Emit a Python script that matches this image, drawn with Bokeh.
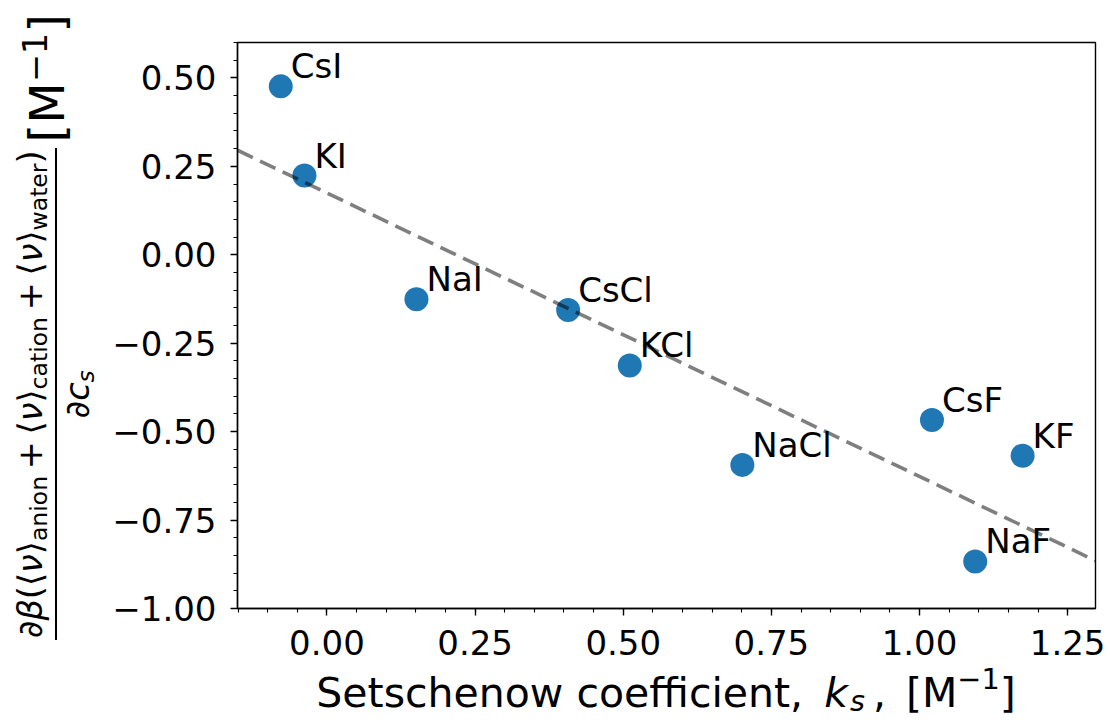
import numpy as np
from bokeh.plotting import figure
from bokeh.layouts import row, column
from bokeh.models import Range1d, FixedTicker, ColumnDataSource, Div
from bokeh.core.properties import value
from bokeh.embed import file_html
from bokeh.resources import INLINE

# ---------------- data ----------------
salts = ["CsI", "KI", "NaI", "CsCl", "KCl", "NaCl", "CsF", "KF", "NaF"]
ks = [-0.078, -0.038, 0.151, 0.407, 0.511, 0.701, 1.021, 1.174, 1.094]
dbeta = [0.476, 0.224, -0.126, -0.156, -0.313, -0.594, -0.467, -0.568, -0.867]

x_ticks = [0.0, 0.25, 0.5, 0.75, 1.0, 1.25]
x_tick_labels = ["0.00", "0.25", "0.50", "0.75", "1.00", "1.25"]
y_ticks = [-1.0, -0.75, -0.5, -0.25, 0.0, 0.25, 0.5]
y_tick_labels = ["\u22121.00", "\u22120.75", "\u22120.50", "\u22120.25", "0.00", "0.25", "0.50"]

# ---------------- layout (page pixels) ----------------
X0, X1 = -0.151, 1.297
Y0, Y1 = -1.0, 0.6
TOTAL_W, TOTAL_H = 1110, 720
LW = 100               # strip holding the y-axis title
TOP_H = 670            # height of the plot row
FRAME_L, FRAME_T, FRAME_W, FRAME_H = 237, 42, 858, 566
FONT = "DejaVu Sans"
BLUE = "#1f77b4"

p = figure(frame_width=FRAME_W, frame_height=FRAME_H,
           min_border_left=FRAME_L - LW, min_border_top=FRAME_T,
           min_border_right=TOTAL_W - FRAME_L - FRAME_W,
           min_border_bottom=TOP_H - FRAME_T - FRAME_H, title=None,
           x_range=Range1d(X0, X1), y_range=Range1d(Y0, Y1),
           output_backend="svg", toolbar_location=None,
           background_fill_color="white", border_fill_color="white")

p.xgrid.visible = False
p.ygrid.visible = False
p.outline_line_color = "black"
p.outline_line_width = 1.4

p.xaxis.ticker = FixedTicker(ticks=x_ticks,
                             minor_ticks=[round(v, 2) for v in np.arange(-0.15, 1.30, 0.05)])
p.yaxis.ticker = FixedTicker(ticks=y_ticks,
                             minor_ticks=[round(v, 2) for v in np.arange(-1.0, 0.61, 0.05)])
p.xaxis.major_label_overrides = dict(zip(x_ticks, x_tick_labels))
p.yaxis.major_label_overrides = dict(zip(y_ticks, y_tick_labels))

for ax in (p.xaxis[0], p.yaxis[0]):
    ax.axis_line_color = "black"
    ax.axis_line_width = 1.4
    ax.major_tick_out = 7
    ax.major_tick_in = 0
    ax.minor_tick_out = 4
    ax.minor_tick_in = 0
    ax.major_tick_line_color = "black"
    ax.minor_tick_line_color = "black"
    ax.major_tick_line_width = 1.4
    ax.minor_tick_line_width = 1.1
    ax.major_label_text_font = FONT
    ax.major_label_text_font_size = "34px"
    ax.major_label_text_color = "black"
    ax.axis_label = None
p.xaxis.major_label_standoff = 14
p.yaxis.major_label_standoff = 14

# ---------------- marks ----------------
src = ColumnDataSource(dict(ks=ks, dbeta=dbeta, salt=salts))
p.scatter(x="ks", y="dbeta", source=src, size=24, fill_color=BLUE, line_color=None)

coef = np.polyfit(ks, dbeta, 1)
lx = [X0, X1]
ly = list(np.polyval(coef, lx))
p.line(lx, ly, line_color="black", line_alpha=0.5, line_width=3.6, line_dash="17 8")

p.text(x="ks", y="dbeta", text="salt", source=src, x_offset=10, y_offset=-20,
       text_font=value(FONT), text_font_size="34px", text_color="black",
       text_align="left", text_baseline="alphabetic")

# ---------------- axis titles as HTML text ----------------
def sub(t, drop_em=0.22):
    return f'<span style="font-size:0.7em;position:relative;top:{drop_em}em;">{t}</span>'


def sup(t, raise_em=0.62):
    return f'<span style="font-size:0.7em;position:relative;top:-{raise_em}em;">{t}</span>'


PLUS = '<span style="margin:0 0.2em;">+</span>'
NU = "\u27e8<i>\u03bd</i>\u27e9"

numerator = ("\u2202<i>\u03b2</i>(" + NU + sub("anion") + PLUS + NU + sub("cation")
             + PLUS + NU + sub("water") + ")")
denominator = "\u2202<i>c</i>" + sub("<i>s</i>")
units_y = "[M" + sup("\u22121", 0.52) + "]"

CX, CY = 56, 327
ylabel_html = (
    f'<div style="position:relative;width:{LW}px;height:{TOP_H}px;">'
    f'<div style="position:absolute;left:{CX}px;top:{CY}px;'
    'transform:translate(-50%,-50%) rotate(-90deg);display:flex;align-items:center;'
    f"white-space:nowrap;font-family:'{FONT}';color:#000;\">"
    '<div style="display:flex;flex-direction:column;align-items:center;'
    'font-size:33.6px;line-height:39px;">'
    f'<div style="padding:0 2px 1px 2px;border-bottom:2.6px solid #000;">{numerator}</div>'
    f'<div style="padding-top:1px;">{denominator}</div>'
    '</div>'
    '<div style="font-size:48px;line-height:56px;margin-left:6px;position:relative;top:-6px;">'
    f'{units_y}</div>'
    '</div></div>'
)

xlabel_html = (
    f'<div style="position:relative;width:{TOTAL_W}px;height:{TOTAL_H - TOP_H}px;">'
    f'<div style="position:absolute;left:{FRAME_L}px;width:{FRAME_W}px;top:0px;'
    f"text-align:center;white-space:nowrap;font-family:'{FONT}';font-size:41px;"
    'line-height:47.7px;color:#000;">'
    'Setschenow coefficient, <i style="margin-left:8px;">k</i>'
    '<span style="font-size:0.7em;position:relative;top:0.15em;margin-left:2px;"><i>s</i></span>'
    '<span style="margin-left:8px;">,</span> <span style="margin-left:7px;">[M</span>'
    + sup("\u22121") + ']</div></div>'
)

div_y = Div(text=ylabel_html, width=LW, height=TOP_H, margin=0)
div_x = Div(text=xlabel_html, width=TOTAL_W, height=TOTAL_H - TOP_H, margin=0)

layout = column(row(div_y, p, spacing=0), div_x, spacing=0)
open("out.html", "w").write(file_html(layout, INLINE))
